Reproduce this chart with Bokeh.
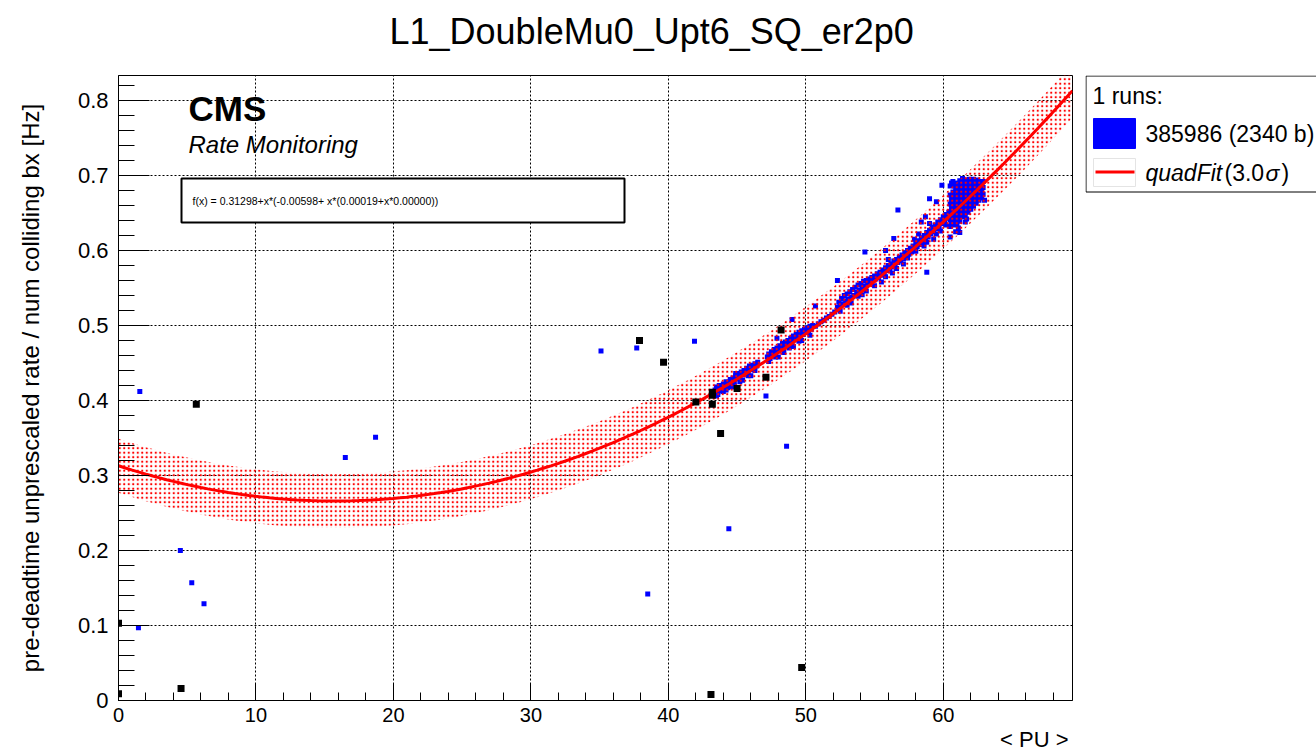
from bokeh.plotting import figure
from bokeh.models import Range1d, BoxAnnotation, Label, SingleIntervalTicker, Title
from bokeh.layouts import row
from bokeh.core.properties import value
from bokeh.embed import file_html
from bokeh.resources import INLINE

FONT = "Liberation Sans"

# quadratic fit coefficients (p0 + x*(p1 + x*(p2 + x*p3)))
fit_p = [0.31298, -0.00598, 0.00019, 0.00000]
fit_sigma = 0.012
fit_nsigma = 3.0

# rate vs pileup, run 385986 (outlier-flagged points kept separate)
blue_out_x = [1.55, 1.45, 4.5, 5.33, 6.22, 16.5, 18.7, 35.1, 37.7, 41.9, 38.5, 44.4, 48.6, 47.1,
              59.9, 56.7, 54.3, 52.3, 50.7, 49.0, 58.8, 61.2, 60.5, 61.6, 63.0, 59.0, 59.5,
              58.4, 58.7, 56.4, 55.8, 47.9, 44.9, 60.9]
blue_out_y = [0.412, 0.097, 0.200, 0.157, 0.129, 0.324, 0.351, 0.466, 0.470, 0.479, 0.142, 0.229, 0.339, 0.406,
              0.687, 0.654, 0.598, 0.560, 0.526, 0.508, 0.571, 0.624, 0.618, 0.638, 0.667, 0.669, 0.665,
              0.638, 0.645, 0.616, 0.600, 0.483, 0.436, 0.625]

blue_lo_x = [43.4, 43.5, 43.6, 43.7, 43.8, 43.9, 44.0, 44.1, 44.2, 44.3, 44.4, 44.5, 44.6, 44.7, 44.8,
             44.9, 45.0, 45.1, 45.2, 45.3, 45.4, 45.5, 45.6, 45.7, 45.8, 45.9, 46.0, 46.1, 46.2, 46.3,
             46.4, 46.5, 43.5, 44.0, 44.6, 45.2, 45.8,
             43.6, 44.2, 44.8, 45.4, 46.0, 46.3]
blue_lo_y = [0.414, 0.418, 0.411, 0.420, 0.416, 0.413, 0.422, 0.419, 0.425, 0.417, 0.424, 0.428, 0.421, 0.430, 0.426,
             0.433, 0.429, 0.436, 0.432, 0.438, 0.434, 0.440, 0.436, 0.443, 0.438, 0.446, 0.441, 0.447, 0.444, 0.449,
             0.446, 0.451, 0.406, 0.412, 0.418, 0.425, 0.433,
             0.408, 0.414, 0.420, 0.427, 0.433, 0.440]

blue_mid_x = [47.2, 47.3, 47.4, 47.5, 47.6, 47.7, 47.8, 47.9, 48.0, 48.1, 48.2, 48.3, 48.4, 48.5, 48.6,
              48.7, 48.8, 48.9, 49.0, 49.1, 49.2, 49.3, 49.4, 49.5, 49.6, 49.7, 49.8, 49.9, 50.0, 50.1,
              50.2, 50.3, 50.4, 50.5, 48.0, 48.8, 49.5, 50.7, 50.9, 51.1, 51.3, 51.5, 51.7, 51.9, 52.1,
              47.3, 47.8, 48.4, 49.1, 49.7, 50.3]
blue_mid_y = [0.458, 0.462, 0.456, 0.465, 0.460, 0.468, 0.463, 0.470, 0.466, 0.473, 0.468, 0.476, 0.471, 0.478, 0.473,
              0.480, 0.476, 0.483, 0.478, 0.486, 0.481, 0.488, 0.484, 0.491, 0.486, 0.493, 0.488, 0.495, 0.491, 0.497,
              0.493, 0.499, 0.495, 0.500, 0.458, 0.470, 0.479, 0.499, 0.502, 0.505, 0.507, 0.510, 0.512, 0.515, 0.518,
              0.452, 0.458, 0.464, 0.472, 0.480, 0.487]

blue_hi_x = [52.3, 52.4, 52.5, 52.6, 52.7, 52.8, 52.9, 53.0, 53.1, 53.2, 53.3, 53.4, 53.5, 53.6, 53.7,
             53.8, 53.9, 54.0, 54.1, 54.2, 54.3, 54.4, 54.5, 54.6, 54.7, 54.8, 53.0, 53.8, 54.4,
             54.9, 55.0, 55.1, 55.2, 55.3, 55.4, 55.5, 55.6, 55.7, 55.8, 55.9, 56.0, 56.1, 56.2, 56.3,
             56.4, 56.5, 56.6, 56.7, 56.8, 56.9, 57.0, 57.1, 57.2, 57.3, 57.4, 57.5, 57.6, 57.7, 57.8,
             55.5, 56.3, 57.1, 56.0,
             52.5, 53.3, 54.1, 55.0, 55.8, 56.6, 57.4]
blue_hi_y = [0.524, 0.531, 0.526, 0.536, 0.529, 0.540, 0.533, 0.542, 0.535, 0.545, 0.538, 0.548, 0.540, 0.551, 0.544,
             0.554, 0.547, 0.556, 0.550, 0.559, 0.552, 0.560, 0.555, 0.562, 0.557, 0.564, 0.527, 0.539, 0.546,
             0.561, 0.566, 0.562, 0.569, 0.564, 0.571, 0.567, 0.574, 0.569, 0.577, 0.573, 0.580, 0.575, 0.582, 0.578,
             0.586, 0.581, 0.588, 0.584, 0.591, 0.586, 0.594, 0.589, 0.597, 0.592, 0.600, 0.595, 0.603, 0.598, 0.606,
             0.558, 0.570, 0.582, 0.588,
             0.519, 0.530, 0.541, 0.553, 0.565, 0.576, 0.590]

blue_top_x = [57.9, 58.0, 58.1, 58.2, 58.3, 58.4, 58.5, 58.6, 58.7, 58.8, 58.9, 59.0, 59.1, 59.2, 59.3,
              59.4, 59.5, 59.6, 59.7, 59.8, 59.9, 60.0, 60.1, 60.2, 60.3, 60.4,
              58.6, 59.3, 59.0, 59.8, 58.2, 57.9, 58.0, 58.8, 59.5, 60.2]
blue_top_y = [0.602, 0.610, 0.605, 0.613, 0.608, 0.617, 0.611, 0.620, 0.615, 0.624, 0.618, 0.627, 0.622, 0.631, 0.625,
              0.634, 0.629, 0.638, 0.632, 0.641, 0.636, 0.645, 0.640, 0.648, 0.643, 0.651,
              0.606, 0.615, 0.636, 0.626, 0.622, 0.615, 0.599, 0.611, 0.622, 0.634]

blue_blob_x = [60.5, 60.5, 60.5, 60.5, 60.5, 60.5, 60.6, 60.6, 60.6, 60.6, 60.6,
               60.7, 60.7, 60.7, 60.7, 60.7, 60.7, 60.8, 60.8, 60.8, 60.8, 60.8, 60.8,
               60.9, 60.9, 60.9, 60.9, 60.9, 61.0, 61.0, 61.0, 61.0, 61.0, 61.0,
               61.1, 61.1, 61.1, 61.1, 61.1, 61.1, 61.2, 61.2, 61.2, 61.2, 61.2, 61.2,
               61.3, 61.3, 61.3, 61.3, 61.3, 61.4, 61.4, 61.4, 61.4, 61.4, 61.4,
               61.5, 61.5, 61.5, 61.5, 61.5, 61.6, 61.6, 61.6, 61.6, 61.6,
               61.7, 61.7, 61.7, 61.7, 61.7, 61.7, 61.8, 61.8, 61.8, 61.8, 61.8,
               61.9, 61.9, 61.9, 61.9, 61.9, 62.0, 62.0, 62.0, 62.0, 62.0,
               62.1, 62.1, 62.1, 62.1, 62.2, 62.2, 62.2, 62.2, 62.2,
               62.3, 62.3, 62.3, 62.3, 62.4, 62.4, 62.4, 62.4,
               62.5, 62.5, 62.5, 62.5, 62.6, 62.6, 62.6, 62.6,
               62.7, 62.7, 62.7, 62.8, 62.8, 62.8, 62.9, 62.9, 62.9]
blue_blob_y = [0.632, 0.641, 0.652, 0.662, 0.674, 0.686, 0.637, 0.647, 0.657, 0.668, 0.690,
               0.636, 0.645, 0.655, 0.666, 0.678, 0.692, 0.634, 0.642, 0.651, 0.661, 0.673, 0.686,
               0.639, 0.649, 0.659, 0.670, 0.683, 0.636, 0.646, 0.656, 0.667, 0.679, 0.690,
               0.630, 0.643, 0.652, 0.663, 0.674, 0.687, 0.639, 0.649, 0.658, 0.669, 0.682, 0.693,
               0.646, 0.655, 0.667, 0.678, 0.690, 0.645, 0.654, 0.664, 0.675, 0.686, 0.696,
               0.650, 0.659, 0.670, 0.681, 0.692, 0.648, 0.657, 0.667, 0.678, 0.689,
               0.642, 0.653, 0.662, 0.674, 0.685, 0.694, 0.651, 0.660, 0.671, 0.682, 0.691,
               0.657, 0.666, 0.677, 0.688, 0.695, 0.655, 0.664, 0.674, 0.685, 0.694,
               0.660, 0.669, 0.680, 0.690, 0.659, 0.668, 0.677, 0.687, 0.695,
               0.664, 0.673, 0.683, 0.692, 0.663, 0.671, 0.680, 0.690,
               0.668, 0.676, 0.686, 0.694, 0.667, 0.675, 0.684, 0.692,
               0.671, 0.680, 0.689, 0.670, 0.679, 0.688, 0.675, 0.684, 0.692]

black_x = [0.0, 0.0, 4.55, 5.66, 37.9, 39.65, 42.0, 43.2, 43.2, 43.2, 43.8, 45.0, 47.1, 48.2, 49.7, 43.1]
black_y = [0.009, 0.103, 0.016, 0.395, 0.480, 0.451, 0.398, 0.411, 0.407, 0.395, 0.356, 0.416, 0.431, 0.494, 0.044, 0.008]

x_ticks_every = 10
y_ticks_every = 0.1

X_MAX = 69.4
Y_MAX = 0.8333

p = figure(width=1085, height=755, x_range=Range1d(0, X_MAX), y_range=Range1d(0, Y_MAX),
           output_backend="svg", toolbar_location=None, title=None,
           min_border_left=118, min_border_right=13, min_border_top=75, min_border_bottom=55,
           background_fill_color="white", border_fill_color="white")
p.outline_line_color = "black"
p.outline_line_width = 1

# titles: a thin spacer next to the frame, the histogram name above it
p.add_layout(Title(text=" ", text_font_size="1px", standoff=21), "above")
p.add_layout(Title(text="L1_DoubleMu0_Upt6_SQ_er2p0", align="left", offset=271, standoff=0,
                   text_font=FONT, text_font_size="36px", text_font_style="normal",
                   text_color="black"), "above")
p.add_layout(Title(text="< PU >", align="right", offset=4, standoff=0,
                   text_font=FONT, text_font_size="22px", text_font_style="normal",
                   text_color="black"), "below")

# axes in ROOT style: ticks pointing inward, dotted grid at the majors
p.xaxis.ticker = SingleIntervalTicker(interval=x_ticks_every, num_minor_ticks=5)
p.yaxis.ticker = SingleIntervalTicker(interval=y_ticks_every, num_minor_ticks=5)
for ax in (p.xaxis[0], p.yaxis[0]):
    ax.axis_line_color = "black"
    ax.major_tick_line_color = "black"
    ax.minor_tick_line_color = "black"
    ax.major_tick_out = 0
    ax.minor_tick_out = 0
    ax.major_label_text_font = FONT
    ax.major_label_text_color = "black"
p.xaxis.major_label_text_font_size = "20px"
p.yaxis.major_label_text_font_size = "22px"
p.xaxis.major_tick_in = 17
p.xaxis.minor_tick_in = 8
p.yaxis.major_tick_in = 31
p.yaxis.minor_tick_in = 16
p.xaxis.major_label_standoff = 7
p.yaxis.major_label_standoff = 10
p.yaxis.major_label_overrides = {0: "0"}
p.yaxis.axis_label = "pre-deadtime unprescaled rate / num colliding bx [Hz]"
p.yaxis.axis_label_text_font = FONT
p.yaxis.axis_label_text_font_size = "24px"
p.yaxis.axis_label_text_font_style = "normal"
p.yaxis.axis_label_text_color = "black"
p.yaxis.axis_label_standoff = 31

for g in (p.xgrid[0], p.ygrid[0]):
    g.grid_line_color = "black"
    g.grid_line_dash = "2 2"
    g.grid_line_width = 1

# data points
p.scatter(blue_out_x + blue_lo_x + blue_mid_x + blue_hi_x + blue_top_x + blue_blob_x,
          blue_out_y + blue_lo_y + blue_mid_y + blue_hi_y + blue_top_y + blue_blob_y,
          marker="square", size=5, fill_color="#0000ff", line_color=None)

# fit curve with its n-sigma band
n_curve = 140
fx = [X_MAX * i / (n_curve - 1) for i in range(n_curve)]
fy = [fit_p[0] + x * (fit_p[1] + x * (fit_p[2] + x * fit_p[3])) for x in fx]
half = fit_nsigma * fit_sigma
p.varea(x=fx, y1=[v - half for v in fy], y2=[v + half for v in fy],
        fill_alpha=0, hatch_pattern="dot", hatch_color="#ff0000", hatch_scale=4.5, hatch_weight=1)
p.line(fx, fy, line_color="#ff0000", line_width=3)

p.scatter(black_x, black_y, marker="square", size=7, fill_color="black", line_color=None)

def px_to_x(px):
    return (px - 118) * X_MAX / 954

def py_to_y(py):
    return (700 - py) * Y_MAX / 625

def add_text(px, py, text, size, style="normal"):
    p.add_layout(Label(x=px_to_x(px), y=py_to_y(py), text=text, text_font=FONT,
                       text_font_size=size, text_font_style=style, text_align="left",
                       text_baseline="middle", text_color="black"))

# fit formula box
p.add_layout(BoxAnnotation(left=px_to_x(181), right=px_to_x(624), top=py_to_y(178), bottom=py_to_y(222),
                           fill_color="white", fill_alpha=1, line_color="black", line_width=2, line_alpha=1))
add_text(192, 200, "f(x) = 0.31298+x*(-0.00598+ x*(0.00019+x*0.00000))", "10.5px")

add_text(188, 108, "CMS", "35px", style="bold")
add_text(188, 144, "Rate Monitoring", "24px", style="italic")

# legend panel; its frame lines up with the main frame (page rows 75..700)
lg = figure(width=231, height=755, x_range=Range1d(0, 231), y_range=Range1d(700, 75),
            output_backend="svg", toolbar_location=None,
            min_border_left=0, min_border_right=0, min_border_top=0, min_border_bottom=0,
            background_fill_color="white", border_fill_color="white")
lg.axis.visible = False
lg.grid.visible = False
lg.outline_line_color = None

lg.quad(left=[0.5], right=[260], top=[75.5], bottom=[191.5], fill_color="white",
        line_color="black", line_width=1)
lg.quad(left=[8], right=[50], top=[118], bottom=[148], fill_color="#0000ff", line_color="#0000ff")
lg.quad(left=[8], right=[50], top=[158], bottom=[186], fill_color="white", line_color="#e4e4e4",
        line_width=1)
lg.segment(x0=[10], y0=[171.5], x1=[49], y1=[171.5], line_color="#ff0000", line_width=3)

leg_texts = [
    (7, 95, "1 runs:", "normal"),
    (60, 133, "385986 (2340 b)", "normal"),
    (60, 172, "quadFit", "italic"),
    (139, 172, "(3.0", "normal"),
    (180, 172, "\u03c3", "italic"),
    (196, 172, ")", "normal"),
]
for tx, ty, tt, ts in leg_texts:
    lg.text(x=[tx], y=[ty], text=[tt], text_font=value(FONT), text_font_size="23px",
            text_font_style=ts, text_align="left", text_baseline="middle", text_color="black")

layout = row(p, lg, spacing=0)
open("out.html", "w").write(file_html(layout, INLINE))
